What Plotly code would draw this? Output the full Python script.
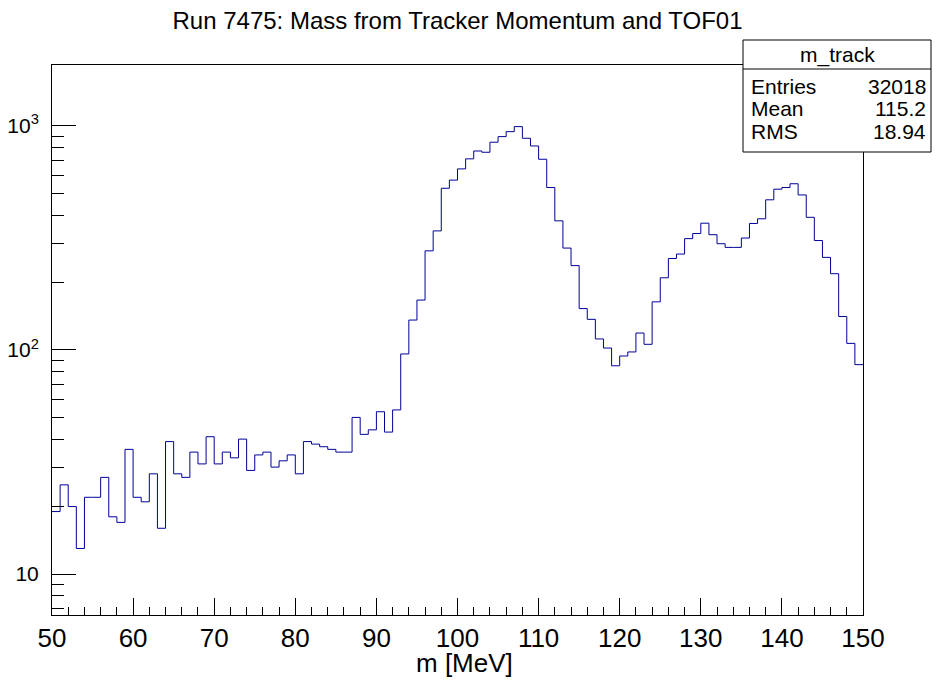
import plotly.graph_objects as go

###############################################################################
# Data

bin_lo = 50.0
bin_width = 1.0

counts = [
    19, 25, 20, 13, 22, 22, 27, 18, 17, 36,
    22, 21, 28, 16, 39, 28, 27, 35, 31, 41,
    31, 35, 33, 40, 29, 34, 35, 30, 32, 34,
    28, 39, 38, 37, 36, 35, 35, 50, 42, 44,
    53, 43, 54, 96, 136, 167, 277, 340, 527, 573,
    643, 713, 773, 763, 846, 896, 943, 993, 881, 814,
    710, 531, 377, 285, 238, 153, 137, 112, 102, 85,
    94, 98, 119, 106, 164, 210, 256, 268, 314, 331,
    368, 327, 298, 287, 287, 316, 367, 385, 468, 522,
    531, 552, 492, 391, 308, 259, 219, 141, 107, 86,
]

stats_name = "m_track"
stats_labels = ["Entries", "Mean", "RMS"]
stats_values = ["32018", "115.2", "18.94"]

title_text = "Run 7475: Mass from Tracker Momentum and TOF01"
x_title = "m [MeV]"

y_major = [10, 100, 1000]
y_major_text = ["10", "10<sup>2</sup>", "10<sup>3</sup>"]

###############################################################################
# Figure

# the page body has an 8px margin, so the figure is shifted by 8px;
# positions below are given in screenshot pixels then converted
OFF = 8
W, H = 940 - OFF, 681 - OFF

edges = [bin_lo + bin_width * i for i in range(len(counts) + 1)]
step_y = counts + [counts[-1]]

font_main = "Liberation Sans, Arial, Helvetica, sans-serif"

fig = go.Figure(
    data=[
        go.Scatter(
            x=edges,
            y=step_y,
            mode="lines",
            line=dict(color="#000099", width=1, shape="hv"),
            showlegend=False,
            hoverinfo="skip",
        )
    ]
)

minor_y = [m * d for d in (1, 10, 100) for m in range(2, 10)]

# plot frame in screenshot pixels
px_l, px_r, px_t, px_b = 52, 863, 65, 615

fig.update_layout(
    width=W,
    height=H,
    autosize=False,
    paper_bgcolor="white",
    plot_bgcolor="white",
    margin=dict(l=px_l - OFF, r=W - (px_r - OFF), t=px_t - OFF, b=H - (px_b - OFF)),
    showlegend=False,
    title=dict(
        text=title_text,
        x=0.5,
        xref="paper",
        y=1 - (21 - OFF) / H,
        yref="container",
        xanchor="center",
        yanchor="middle",
        font=dict(family=font_main, size=24, color="black"),
    ),
)

fig.update_xaxes(
    range=[50, 150],
    automargin=False,
    showgrid=False,
    zeroline=False,
    showline=True,
    linecolor="black",
    linewidth=1,
    mirror=True,
    ticks="inside",
    ticklen=17,
    tickcolor="black",
    tick0=50,
    dtick=10,
    minor=dict(ticks="inside", ticklen=8, dtick=2, tickcolor="black", showgrid=False),
    tickfont=dict(family=font_main, size=26, color="black"),
)

fig.update_yaxes(
    type="log",
    range=[0.817, 3.272],
    automargin=False,
    showgrid=False,
    zeroline=False,
    showline=True,
    linecolor="black",
    linewidth=1,
    mirror=True,
    ticks="inside",
    ticklen=24,
    tickcolor="black",
    tickmode="array",
    tickvals=y_major,
    ticktext=y_major_text,
    ticklabelstandoff=8,
    minor=dict(ticks="inside", ticklen=12, tickmode="array", tickvals=minor_y,
               tickcolor="black", showgrid=False),
    tickfont=dict(family=font_main, size=21, color="black"),
)


def px(x):
    return (x - px_l) / (px_r - px_l)


def py(y):
    return (px_b - y) / (px_b - px_t)


fig.add_annotation(text=x_title, xref="paper", yref="paper",
                   x=px(464), y=py(663), xanchor="center", yanchor="middle",
                   showarrow=False, font=dict(family=font_main, size=26, color="black"))

# stats box (the visible page ends near x=932, so it is kept inside that)
box_l, box_r, box_t, box_mid, box_b = 743, 931, 40, 69, 152

fig.add_shape(type="rect", xref="paper", yref="paper",
              x0=px(box_l), x1=px(box_r), y0=py(box_b), y1=py(box_t),
              line=dict(color="black", width=1), fillcolor="white", layer="above")
fig.add_shape(type="line", xref="paper", yref="paper",
              x0=px(box_l), x1=px(box_r), y0=py(box_mid), y1=py(box_mid),
              line=dict(color="black", width=1), layer="above")

fig.add_annotation(text=stats_name, xref="paper", yref="paper",
                   x=px((box_l + box_r) / 2), y=py(55), xanchor="center", yanchor="middle",
                   showarrow=False, font=dict(family=font_main, size=21, color="black"))

row_y = [86, 109, 131]
for lab, val, yy in zip(stats_labels, stats_values, row_y):
    fig.add_annotation(text=lab, xref="paper", yref="paper",
                       x=px(749), y=py(yy), xanchor="left", yanchor="middle",
                       showarrow=False, font=dict(family=font_main, size=21, color="black"))
    fig.add_annotation(text=val, xref="paper", yref="paper",
                       x=px(928), y=py(yy), xanchor="right", yanchor="middle",
                       showarrow=False, font=dict(family=font_main, size=21, color="black"))

fig.write_html("out.html")
